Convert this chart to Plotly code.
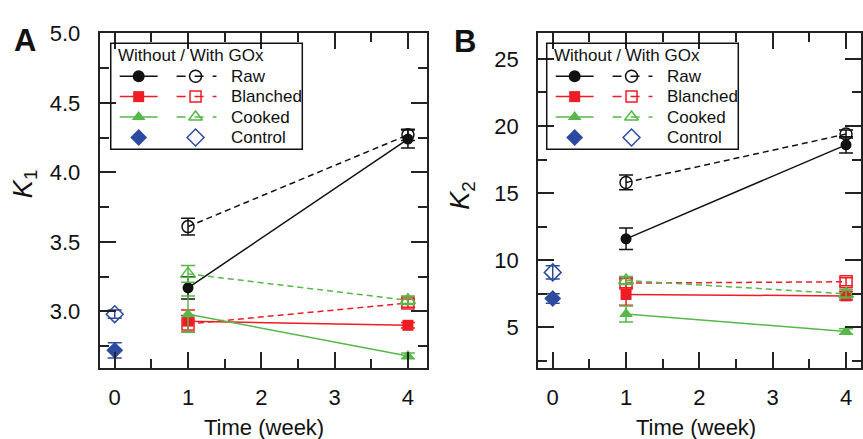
import plotly.graph_objects as go

# ---------------- data ----------------
weeks = [1, 4]
week_ctrl = [0]

# Panel A: K1
k1_raw_without = [3.17, 4.24]
k1_raw_without_err = [0.08, 0.065]
k1_raw_with = [3.61, 4.27]
k1_raw_with_err = [0.06, 0.04]
k1_blanched_without = [2.93, 2.90]
k1_blanched_without_err = [0.08, 0.02]
k1_blanched_with = [2.91, 3.06]
k1_blanched_with_err = [0.06, 0.03]
k1_cooked_without = [2.98, 2.68]
k1_cooked_without_err = [0.13, 0.02]
k1_cooked_with = [3.27, 3.08]
k1_cooked_with_err = [0.06, 0.03]
k1_control_without = [2.72]
k1_control_without_err = [0.055]
k1_control_with = [2.98]
k1_control_with_err = [0.03]

# Panel B: K2
k2_raw_without = [11.6, 18.6]
k2_raw_without_err = [0.8, 0.6]
k2_raw_with = [15.8, 19.4]
k2_raw_with_err = [0.55, 0.3]
k2_blanched_without = [7.45, 7.35]
k2_blanched_without_err = [0.8, 0.3]
k2_blanched_with = [8.3, 8.4]
k2_blanched_with_err = [0.35, 0.3]
k2_cooked_without = [6.0, 4.7]
k2_cooked_without_err = [0.6, 0.2]
k2_cooked_with = [8.5, 7.5]
k2_cooked_with_err = [0.3, 0.3]
k2_control_without = [7.15]
k2_control_without_err = [0.35]
k2_control_with = [9.1]
k2_control_with_err = [0.5]

x_ticks = [0, 1, 2, 3, 4]
legend_title = "Without / With GOx"
legend_labels = ["Raw", "Blanched", "Cooked", "Control"]

# ---------------- style ----------------
BLACK = "#111111"
RED = "#ee1c25"
GREEN = "#56b848"
BLUE = "#2c4a9e"
FONT = "Liberation Sans, Arial, sans-serif"
W, H = 863, 439
DATA_DASH = "6px,4px"

groups = [
    ("Raw", BLACK, "circle", 11),
    ("Blanched", RED, "square", 11),
    ("Cooked", GREEN, "triangle-up", 12),
]

fig = go.Figure()


def add_panel(xa, ya, data):
    for (name, color, sym, size), (wo, wo_e, wi, wi_e) in zip(groups, data["series"]):
        fig.add_trace(go.Scatter(
            x=weeks, y=wo, mode="lines+markers", xaxis=xa, yaxis=ya,
            line=dict(color=color, width=1.5),
            marker=dict(symbol=sym, size=size, color=color),
            error_y=dict(type="data", array=wo_e, color=color, thickness=1.5, width=7),
            showlegend=False, cliponaxis=False))
        fig.add_trace(go.Scatter(
            x=weeks, y=wi, mode="lines+markers", xaxis=xa, yaxis=ya,
            line=dict(color=color, width=1.5, dash=DATA_DASH),
            marker=dict(symbol=sym + "-open", size=size + 1, color=color, line=dict(width=1.5)),
            error_y=dict(type="data", array=wi_e, color=color, thickness=1.5, width=7),
            showlegend=False, cliponaxis=False))
    cw, cw_e, cwi, cwi_e = data["control"]
    fig.add_trace(go.Scatter(
        x=week_ctrl, y=cw, mode="markers", xaxis=xa, yaxis=ya,
        marker=dict(symbol="diamond", size=13, color=BLUE),
        error_y=dict(type="data", array=cw_e, color=BLUE, thickness=1.5, width=7),
        showlegend=False, cliponaxis=False))
    fig.add_trace(go.Scatter(
        x=week_ctrl, y=cwi, mode="markers", xaxis=xa, yaxis=ya,
        marker=dict(symbol="diamond-open", size=13, color=BLUE, line=dict(width=1.5)),
        error_y=dict(type="data", array=cwi_e, color=BLUE, thickness=1.5, width=7),
        showlegend=False, cliponaxis=False))


add_panel("x", "y", dict(
    series=[(k1_raw_without, k1_raw_without_err, k1_raw_with, k1_raw_with_err),
            (k1_blanched_without, k1_blanched_without_err, k1_blanched_with, k1_blanched_with_err),
            (k1_cooked_without, k1_cooked_without_err, k1_cooked_with, k1_cooked_with_err)],
    control=(k1_control_without, k1_control_without_err, k1_control_with, k1_control_with_err)))
add_panel("x2", "y2", dict(
    series=[(k2_raw_without, k2_raw_without_err, k2_raw_with, k2_raw_with_err),
            (k2_blanched_without, k2_blanched_without_err, k2_blanched_with, k2_blanched_with_err),
            (k2_cooked_without, k2_cooked_without_err, k2_cooked_with, k2_cooked_with_err)],
    control=(k2_control_without, k2_control_without_err, k2_control_with, k2_control_with_err)))

# ---------------- legends (pixel overlay axis x3/y3) ----------------
annotations = []
shapes = []
legend_symbols = [("circle", BLACK, 12), ("square", RED, 11), ("triangle-up", GREEN, 12), ("diamond", BLUE, 13)]
for x0 in [111, 548]:
    shapes.append(dict(type="rect", xref="x3", yref="y3", x0=x0, x1=x0 + 192, y0=32, y1=141,
                       line=dict(color=BLACK, width=1.5), fillcolor="rgba(0,0,0,0)"))
    annotations.append(dict(x=x0 + 5, y=45, xref="x3", yref="y3", text=legend_title,
                            showarrow=False, xanchor="left", yanchor="middle",
                            font=dict(size=17, color=BLACK, family=FONT)))
    for i, (lab, (sym, col, sz)) in enumerate(zip(legend_labels, legend_symbols)):
        yy = 66 + i * 21
        if lab != "Control":
            fig.add_trace(go.Scatter(x=[x0 + 9, x0 + 47], y=[yy, yy], mode="lines", xaxis="x3", yaxis="y3",
                                     line=dict(color=col, width=1.5), showlegend=False, hoverinfo="skip"))
            fig.add_trace(go.Scatter(x=[x0 + 66, x0 + 106], y=[yy, yy], mode="lines", xaxis="x3", yaxis="y3",
                                     line=dict(color=col, width=1.5, dash="dash"), showlegend=False,
                                     hoverinfo="skip"))
        fig.add_trace(go.Scatter(x=[x0 + 28], y=[yy], mode="markers", xaxis="x3", yaxis="y3",
                                 marker=dict(symbol=sym, size=sz, color=col), showlegend=False, hoverinfo="skip"))
        fig.add_trace(go.Scatter(x=[x0 + 85], y=[yy], mode="markers", xaxis="x3", yaxis="y3",
                                 marker=dict(symbol=sym + "-open", size=sz, color=col, line=dict(width=1.5)),
                                 showlegend=False, hoverinfo="skip"))
        annotations.append(dict(x=x0 + 119, y=yy, xref="x3", yref="y3", text=lab, showarrow=False,
                                xanchor="left", yanchor="middle", font=dict(size=17, color=BLACK, family=FONT)))

# panel letters, axis titles
annotations += [
    dict(x=25, y=29, xref="x3", yref="y3", text="<b>A</b>", showarrow=False,
         font=dict(size=31, color=BLACK, family=FONT)),
    dict(x=466, y=30, xref="x3", yref="y3", text="<b>B</b>", showarrow=False,
         font=dict(size=31, color=BLACK, family=FONT)),
    dict(x=25, y=176, xref="x3", yref="y3", text="<i>K</i><sub>1</sub>", showarrow=False, textangle=-90,
         font=dict(size=27, color=BLACK, family=FONT)),
    dict(x=463, y=188, xref="x3", yref="y3", text="<i>K</i><sub>2</sub>", showarrow=False, textangle=-90,
         font=dict(size=27, color=BLACK, family=FONT)),
    dict(x=265, y=427, xref="x3", yref="y3", text="Time (week)", showarrow=False,
         font=dict(size=22, color=BLACK, family=FONT)),
    dict(x=698, y=427, xref="x3", yref="y3", text="Time (week)", showarrow=False,
         font=dict(size=22, color=BLACK, family=FONT)),
]

axis_common = dict(showline=True, linecolor="#222", linewidth=2, mirror="allticks", ticks="inside",
                   ticklen=16, tickwidth=1.8, tickcolor="#222", showgrid=False, zeroline=False,
                   tickfont=dict(size=22, color=BLACK, family=FONT), fixedrange=True)
y_dom = [1 - 365.7 / H, 1 - 22 / H]
minor_x = dict(dtick=0.5, ticks="inside", ticklen=9, tickwidth=1.5, tickcolor="#222", tick0=0)

fig.update_layout(
    width=W, height=H, margin=dict(l=0, r=0, t=0, b=0),
    paper_bgcolor="white", plot_bgcolor="rgba(0,0,0,0)",
    xaxis=dict(domain=[100 / W, 428 / W], range=[-0.204, 4.26], tickvals=x_ticks, anchor="y",
               minor=minor_x, ticklabelstandoff=9, **axis_common),
    yaxis=dict(domain=y_dom, range=[2.595, 5.0], dtick=0.5, tick0=0, tickformat=".1f", anchor="x",
               minor=dict(dtick=0.25, ticks="inside", ticklen=9, tickwidth=1.5, tickcolor="#222", tick0=0),
               ticklabelstandoff=13, **axis_common),
    xaxis2=dict(domain=[539.3 / W, 1.0], range=[-0.2, 4.204], tickvals=x_ticks, anchor="y2",
                minor=minor_x, ticklabelstandoff=9, **axis_common),
    yaxis2=dict(domain=y_dom, range=[2.0, 26.9], dtick=5, tick0=0, anchor="x2",
                minor=dict(dtick=2.5, ticks="inside", ticklen=9, tickwidth=1.5, tickcolor="#222", tick0=0),
                ticklabelstandoff=13, **axis_common),
    xaxis3=dict(domain=[0, 1], range=[0, W], visible=False, anchor="y3", fixedrange=True),
    yaxis3=dict(domain=[0, 1], range=[H, 0], visible=False, anchor="x3", fixedrange=True),
    annotations=annotations, shapes=shapes,
)

fig.write_html("out.html")
